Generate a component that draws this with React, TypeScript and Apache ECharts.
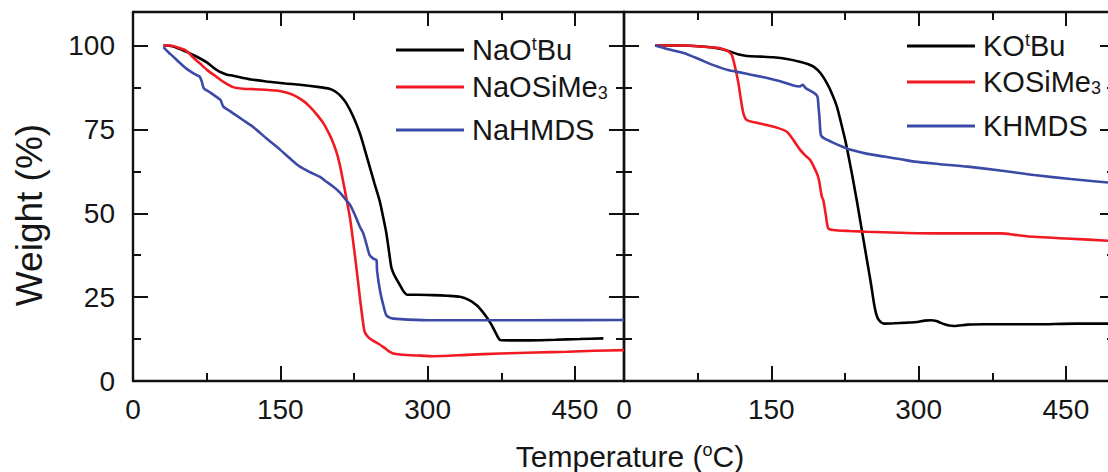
import React, { useEffect, useRef } from 'react';
import * as echarts from 'echarts';

// Axis tick positions (temperature in °C, weight in %)
const TEMP_TICKS = [0, 150, 300, 450];
const TEMP_MINOR = [75, 225, 375];
const TEMP_TOP_TICKS = [150, 300, 450];
const WEIGHT_TICKS = [0, 25, 50, 75, 100];
const WEIGHT_MINOR = [12.5, 37.5, 62.5, 87.5];

// Sodium salts: [temperature, weight %]
const naOtBu = [
  [31, 100], [40, 99.8], [54, 98.2], [64, 96.8], [74, 95.2], [82, 93.4], [88, 92.2], [95, 91.4],
  [102, 91], [120, 89.9], [136, 89.3], [155, 88.7], [170, 88.3], [190, 87.6], [200, 87.1],
  [206, 86.3], [212, 84.8], [217, 82.9], [224, 79], [231, 73.9], [236, 69], [241, 63.9],
  [246, 58.8], [251, 53.9], [255, 48.5], [258, 44], [261, 38], [263, 34], [265, 32.3],
  [268, 30.5], [272, 28.5], [276, 26.5], [279, 25.7], [290, 25.7], [305, 25.6], [320, 25.4],
  [333, 25.1], [342, 24.2], [350, 22.6], [355, 21], [360, 19.1], [365, 16.8], [370, 14],
  [374, 12.2], [385, 12.1], [401, 12.1], [430, 12.3], [455, 12.5], [479, 12.7],
];
const naOSiMe3 = [
  [31, 100], [38, 100], [45, 99.5], [54, 98.5], [61, 96.5], [68, 94.7], [76, 92.6], [85, 90.7],
  [93, 89], [102, 87.6], [112, 87.1], [122, 87], [135, 86.8], [146, 86.6], [155, 86.1],
  [163, 85.3], [172, 83.8], [180, 81.8], [187, 79.5], [194, 76.8], [200, 73.5], [204, 70.9],
  [208, 67.5], [211, 63.9], [214, 59.5], [217, 54.9], [221, 48.5], [224, 42], [227, 35],
  [231, 25], [234, 18], [236, 14.6], [240, 12.9], [244, 12.1], [250, 11.1], [255, 10.1],
  [260, 9], [265, 8.2], [272, 7.9], [290, 7.6], [306, 7.4], [340, 7.8], [374, 8.2],
  [410, 8.5], [442, 8.7], [470, 9], [500, 9.2],
];
const naHMDS = [
  [31, 99.5], [36, 98], [41, 96.7], [47, 95], [54, 93.2], [60, 92], [66, 91], [68, 90.7],
  [70, 89.3], [72, 87.3], [77, 86.3], [82, 85.3], [89, 83.8], [92, 81.8], [97, 80.8],
  [102, 79.8], [112, 77.8], [122, 75.8], [136, 72.3], [150, 68.9], [160, 66.3], [170, 63.9],
  [180, 62.3], [190, 60.9], [197, 59.4], [204, 57.9], [211, 56.1], [217, 53.9], [221, 52.5],
  [226, 49.5], [231, 46], [234.5, 44], [238, 40.5], [241, 37.5], [245, 36.4], [248, 36],
  [248.5, 33], [251.5, 27], [255, 22.5], [258, 19.6], [262, 18.8], [265, 18.6], [280, 18.3],
  [306, 18.1], [400, 18.1], [500, 18.2],
];

// Potassium salts: [temperature, weight %]
const kOtBu = [
  [31.6, 100], [60, 100], [88, 99.5], [100, 98.9], [108, 98.2], [116, 97.4], [125, 96.9],
  [140, 96.7], [152, 96.5], [166, 96], [179, 95.2], [187, 94.5], [193, 93.7], [200, 91.8],
  [206.6, 88.8], [212, 85.5], [216.8, 81.8], [221, 77], [225.3, 71.8], [229, 66.5],
  [232, 61.9], [237, 53.9], [241, 47], [244.5, 41], [248, 35], [251.5, 29], [254.6, 23.1],
  [257, 19.8], [259.7, 18.1], [264.8, 17.1], [275, 17.2], [288, 17.4], [298.8, 17.6],
  [306, 18], [312.4, 18.1], [318, 17.9], [322, 17.4], [330, 16.6], [336.3, 16.4], [350, 16.8],
  [366.8, 16.9], [418, 16.9], [460, 17.1], [500, 17.1],
];
const kOSiMe3 = [
  [31.6, 100], [60, 100], [87.7, 99.5], [95, 99.3], [101, 98.9], [106, 98.3], [109.8, 97.2],
  [113, 93.7], [116.5, 88.8], [119, 84], [121.6, 79.8], [125, 77.8], [135, 77], [145.4, 76.3],
  [156, 75.5], [165.8, 74.3], [172.6, 71.8], [179.4, 68.9], [184, 67.4], [189.6, 65.9],
  [196.4, 61.9], [198.5, 59.9], [201.5, 54.9], [203, 53.9], [205.5, 49.5], [208, 45.5],
  [213.2, 45], [230, 44.7], [247, 44.5], [280, 44.2], [316, 44], [350, 44], [383.8, 44],
  [400, 43.5], [417.7, 43], [450, 42.5], [500, 41.7],
];
const kHMDS = [
  [31.6, 100], [45, 98.9], [61.5, 97.7], [70, 96.7], [78.5, 95.7], [87, 94.6], [95.5, 93.7],
  [105.7, 92.7], [118, 92], [129.4, 91.3], [141, 90.6], [153, 89.8], [163, 89], [173.5, 88],
  [179, 87.8], [182, 88.3], [185, 87.3], [193.8, 85.8], [197, 84.8], [198, 82], [199, 78.8],
  [200.5, 73.3], [204, 72.3], [214, 70.9], [222, 69.9], [231, 68.9], [248, 67.7], [265, 66.9],
  [282, 66.1], [295.7, 65.4], [320, 64.7], [350, 63.9], [385, 62.7], [417.7, 61.4],
  [455, 60.2], [500, 59],
];

const SERIES_NAMES = ['NaOtBu', 'NaOSiMe3', 'NaHMDS', 'KOtBu', 'KOSiMe3', 'KHMDS'];
const SERIES_DATA = [naOtBu, naOSiMe3, naHMDS, kOtBu, kOSiMe3, kHMDS];
const SERIES_PANEL = [0, 0, 0, 1, 1, 1];
const COLORS = ['#000000', '#f01a22', '#3a4aa6', '#000000', '#f01a22', '#3a4aa6'];

// Legend labels with chemical super/subscripts as rich text
const LEGEND_LABELS: Record<string, string> = {
  NaOtBu: 'NaO{sup|t}Bu',
  NaOSiMe3: 'NaOSiMe{sub|3}',
  NaHMDS: 'NaHMDS',
  KOtBu: 'KO{sup|t}Bu',
  KOSiMe3: 'KOSiMe{sub|3}',
  KHMDS: 'KHMDS',
};

const FONT = "'Liberation Sans', Arial, Helvetica, sans-serif";
const INK = '#161616';
const AXIS_LINE = { color: '#111', width: 2.4 };
const TICK_LINE = { color: '#111', width: 2 };

// Subscript: padded token sits at the bottom of a taller line, main text stays centred
const richSupSub = {
  sup: { fontSize: 18, lineHeight: 18, verticalAlign: 'top', fontFamily: FONT, color: INK },
  sub: { fontSize: 18, lineHeight: 30, padding: [26, 0, 0, 0], verticalAlign: 'bottom', fontFamily: FONT, color: INK },
};

function tickAxis(gi: number, dim: 'x' | 'y', position: string, values: number[], length: number, withLine: boolean, labels: number[] | null) {
  return {
    gridIndex: gi,
    type: 'value',
    position,
    min: 0,
    max: dim === 'x' ? 500 : 110,
    axisLine: { show: withLine, onZero: false, lineStyle: AXIS_LINE },
    axisTick: { show: true, inside: true, length, customValues: values, lineStyle: TICK_LINE },
    axisLabel: labels
      ? {
          show: true,
          customValues: labels,
          fontSize: 28,
          fontFamily: FONT,
          color: INK,
          margin: dim === 'x' ? 14 : 18,
        }
      : { show: false },
    splitLine: { show: false },
    minorTick: { show: false },
  };
}

function panelAxes(gi: number, showYLabels: boolean) {
  const xAxis = [
    tickAxis(gi, 'x', 'bottom', TEMP_TICKS, 15, true, TEMP_TICKS),
    tickAxis(gi, 'x', 'bottom', TEMP_MINOR, 8, false, null),
    tickAxis(gi, 'x', 'top', TEMP_TOP_TICKS, 14, true, null),
    tickAxis(gi, 'x', 'top', TEMP_MINOR, 8, false, null),
  ];
  const yAxis = [
    tickAxis(gi, 'y', 'left', WEIGHT_TICKS, 15, true, showYLabels ? WEIGHT_TICKS : null),
    tickAxis(gi, 'y', 'left', WEIGHT_MINOR, 8, false, null),
    tickAxis(gi, 'y', 'right', WEIGHT_TICKS, 15, true, null),
    tickAxis(gi, 'y', 'right', WEIGHT_MINOR, 8, false, null),
  ];
  return { xAxis, yAxis };
}

// Legend placement per series: [left, top]
const LEGEND_POS = [
  [396, 35], [396, 58], [396, 115],
  [907, 31], [907, 53], [907, 111],
];

export default function App() {
  const ref = useRef<HTMLDivElement>(null);

  useEffect(() => {
    if (!ref.current) return;
    const chart = echarts.init(ref.current, undefined, { renderer: 'svg' });

    const p0 = panelAxes(0, true);
    const p1 = panelAxes(1, false);
    const axesPerPanel = 4;

    const series = SERIES_NAMES.map((name, i) => ({
      name,
      type: 'line',
      xAxisIndex: SERIES_PANEL[i] * axesPerPanel,
      yAxisIndex: SERIES_PANEL[i] * axesPerPanel,
      data: SERIES_DATA[i],
      symbol: 'none',
      showSymbol: false,
      smooth: 0.25,
      lineStyle: { color: COLORS[i], width: 2.6 },
      itemStyle: { color: COLORS[i] },
      z: 3,
    }));

    const legend = SERIES_NAMES.map((name, i) => ({
      data: [name],
      left: LEGEND_POS[i][0],
      top: LEGEND_POS[i][1],
      padding: 0,
      icon: 'rect',
      itemWidth: 68,
      itemHeight: 3,
      selectedMode: false,
      formatter: (n: string) => LEGEND_LABELS[n] ?? n,
      textStyle: {
        fontSize: 29,
        lineHeight: 30,
        fontFamily: FONT,
        color: INK,
        padding: [0, 0, 0, 3],
        rich: richSupSub,
      },
    }));

    chart.setOption({
      animation: false,
      backgroundColor: '#ffffff',
      grid: [
        { left: 133, top: 12, width: 491, bottom: 91, containLabel: false, outerBoundsMode: 'none' },
        { left: 624, top: 12, width: 491, bottom: 91, containLabel: false, outerBoundsMode: 'none' },
      ],
      xAxis: [...p0.xAxis, ...p1.xAxis],
      yAxis: [...p0.yAxis, ...p1.yAxis],
      legend,
      series,
      graphic: [
        {
          type: 'text',
          x: 630,
          y: 456,
          style: {
            text: 'Temperature ({sup|o}C)',
            fontSize: 30,
            fontFamily: FONT,
            fill: INK,
            align: 'center',
            verticalAlign: 'middle',
            lineHeight: 30,
            rich: {
              sup: { fontSize: 18, lineHeight: 18, verticalAlign: 'top', fontFamily: FONT, fill: INK, color: INK },
            },
          },
        },
        {
          type: 'text',
          x: 29,
          y: 215,
          rotation: Math.PI / 2,
          style: {
            text: 'Weight (%)',
            fontSize: 37,
            fontFamily: FONT,
            fill: INK,
            align: 'center',
            verticalAlign: 'middle',
          },
        },
      ],
    });

    return () => chart.dispose();
  }, []);

  return (
    <div
      ref={ref}
      style={{ position: 'fixed', left: 0, top: 0, width: 1108, height: 472, background: '#fff' }}
    />
  );
}
